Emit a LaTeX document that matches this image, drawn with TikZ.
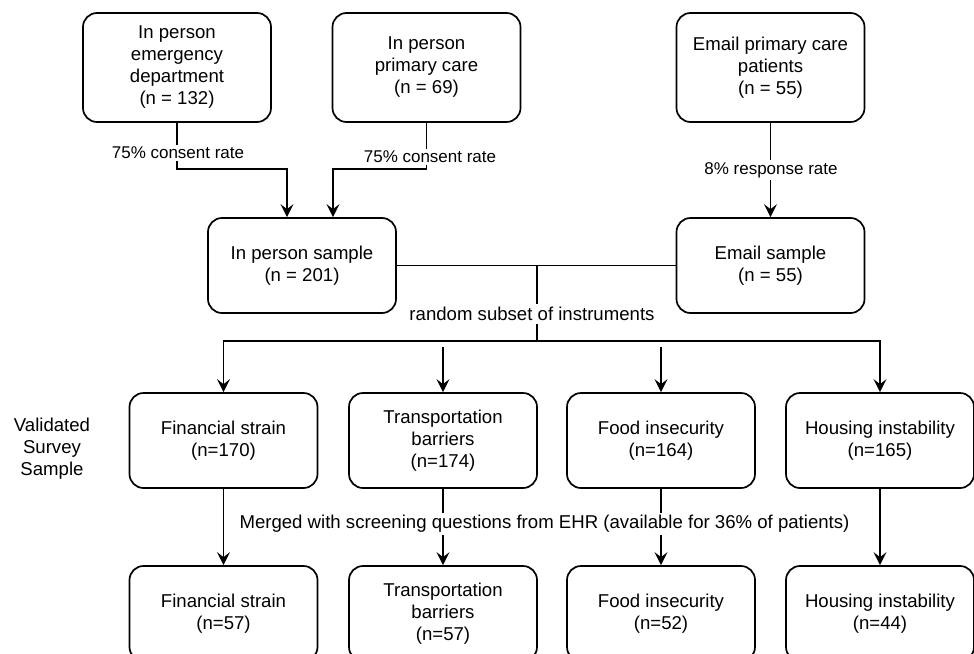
\documentclass[tikz,border=0pt]{standalone}
\usepackage{fontspec}
\setmainfont{Liberation Sans}
\usetikzlibrary{arrows.meta}
\newcommand{\bigfs}{\fontsize{18.6}{22}\selectfont}
\newcommand{\smallfs}{\fontsize{17}{21}\selectfont}
\begin{document}
\begin{tikzpicture}[x=1pt,y=-1pt,
  box/.style={draw, line width=1.7pt, rounded corners=14pt, minimum width=188pt, align=center, inner sep=0pt, font=\bigfs},
  conn/.style={line width=1.7pt},
  arr/.style={line width=1.7pt, -{Stealth[length=13pt,width=13pt,inset=5pt]}},
  lbl/.style={fill=white, inner sep=3pt, font=\bigfs},
  slbl/.style={fill=white, inner sep=2pt, font=\smallfs}
]
\useasboundingbox (0,0) rectangle (974,653);
\clip (0,0) rectangle (974,653);

% top row
\node[box, minimum height=109pt] (ed) at (177,67.5) {In person\\emergency\\department\\(n = 132)};
\node[box, minimum height=109pt] (pc) at (426.5,67.5) {In person\\primary care\\(n = 69)};
\node[box, minimum height=109pt] (em) at (770.5,67.5) {Email primary care\\patients\\(n = 55)};

% samples
\node[box, minimum height=95pt] (ips) at (302,265.5) {In person sample\\(n = 201)};
\node[box, minimum height=95pt] (ems) at (770.5,265.5) {Email sample\\(n = 55)};

% row 2
\node[box, minimum height=95pt] (fs1) at (223.5,440.5) {Financial strain\\(n=170)};
\node[box, minimum height=95pt] (tb1) at (443,440.5) {Transportation\\barriers\\(n=174)};
\node[box, minimum height=95pt] (fi1) at (661,440.5) {Food insecurity\\(n=164)};
\node[box, minimum height=95pt] (hi1) at (880,440.5) {Housing instability\\(n=165)};

% row 3
\node[box, minimum height=95pt] (fs2) at (223.5,613.5) {Financial strain\\(n=57)};
\node[box, minimum height=95pt] (tb2) at (443,613.5) {Transportation\\barriers\\(n=57)};
\node[box, minimum height=95pt] (fi2) at (661,613.5) {Food insecurity\\(n=52)};
\node[box, minimum height=95pt] (hi2) at (880,613.5) {Housing instability\\(n=44)};

\node[align=center, font=\bigfs, inner sep=0pt] (vss) at (52,449) {Validated\\Survey\\Sample};

% top connectors
\draw[arr] (ed.south) -- ++(0,46) -| ([xshift=-15pt]ips.north);
\draw[arr] (pc.south) -- ++(0,46) -| ([xshift=31pt]ips.north);
\draw[arr] (em.south) -- (ems.north);
\node[slbl] (l1) at (178,153) {75\% consent rate};
\node[slbl] (l2) at (430,157) {75\% consent rate};
\node[slbl] (l3) at (771,170) {8\% response rate};

% merge and split
\coordinate (split) at (537,265.5);
\coordinate (hub) at (537,341);
\draw[conn] (ips.east) -- (ems.west);
\draw[conn] (split) -- (hub);
\draw[arr] (hub) -| (fs1.north);
\draw[arr] (hub) -| (hi1.north);
\coordinate (tbs) at (443,347);
\coordinate (fis) at (661,347);
\draw[arr] (tbs) -- (tb1.north);
\draw[arr] (fis) -- (fi1.north);
\node[lbl] (l4) at (532,314) {random subset of instruments};

% row2 -> row3
\draw[arr] (fs1.south) -- (fs2.north);
\draw[arr] (tb1.south) -- (tb2.north);
\draw[arr] (fi1.south) -- (fi2.north);
\draw[arr] (hi1.south) -- (hi2.north);
\node[lbl, inner sep=2pt] (l5) at (544.5,524) {Merged with screening questions from EHR (available for 36\% of patients)};
\end{tikzpicture}
\end{document}
